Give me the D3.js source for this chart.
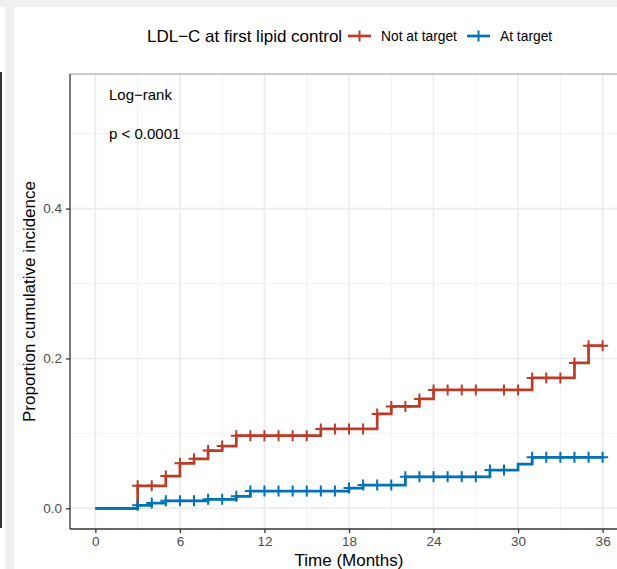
<!DOCTYPE html>
<html>
<head>
<meta charset="utf-8">
<script src="https://cdn.jsdelivr.net/npm/d3@7"></script>
<style>
  html, body { margin: 0; padding: 0; background: #f0f0f0; }
  svg { display: block; font-family: "Liberation Sans", Arial, sans-serif; }
</style>
</head>
<body>
<script>
// Cumulative incidence by LDL-C status at first lipid control
const groups = ["Not at target", "At target"];
const groupColors = ["#BC3C29", "#0072B5"];

// Step function: event times (months) and cumulative incidence after each step
const notAtTargetTimes  = [0, 3, 5, 6, 7, 8, 9, 10, 16, 20, 21, 23, 24, 31, 34, 35];
const notAtTargetValues = [0, 0.030, 0.043, 0.060, 0.066, 0.077, 0.083, 0.097, 0.106, 0.126, 0.136, 0.146, 0.158, 0.174, 0.194, 0.217];
const notAtTargetCensor = [3, 4, 5, 6, 7, 8, 9, 10, 11, 12, 13, 14, 15, 16, 17, 18, 19, 20, 21, 22, 23, 24, 25, 26, 27, 29, 30, 31, 32, 33, 34, 35, 36];

const atTargetTimes  = [0, 3, 4, 5, 8, 10, 11, 18, 19, 22, 28, 30, 31];
const atTargetValues = [0, 0.004, 0.007, 0.010, 0.012, 0.016, 0.023, 0.027, 0.031, 0.042, 0.051, 0.059, 0.068];
const atTargetCensor = [3, 4, 5, 6, 7, 8, 9, 10, 11, 12, 13, 14, 15, 16, 17, 18, 19, 20, 21, 22, 23, 24, 25, 26, 27, 28, 29, 31, 32, 33, 34, 35, 36];

const followUpEnd = 36;
const xTicks = [0, 6, 12, 18, 24, 30, 36];
const xMinor = [3, 9, 15, 21, 27, 33];
const yTicks = [0, 0.2, 0.4];
const yMinor = [0.1, 0.3, 0.5];

const W = 617, H = 569;
const FONT = "'Liberation Sans', Arial, sans-serif";
const svg = d3.select("body").append("svg").attr("width", W).attr("height", H);

// page backdrop
svg.append("rect").attr("width", W).attr("height", H).attr("fill", "#f0f0f0");
svg.append("rect").attr("x", 0).attr("y", 7).attr("width", 5).attr("height", H - 7).attr("fill", "#ffffff");
svg.append("line").attr("x1", 1).attr("x2", 1).attr("y1", 72).attr("y2", 528).attr("stroke", "#333").attr("stroke-width", 2);
svg.append("rect").attr("x", 14).attr("y", 7).attr("width", W - 14).attr("height", H - 7).attr("fill", "#ffffff");

const panel = { left: 70, right: 628, top: 74, bottom: 529 };
const x = d3.scaleLinear().domain([-1.8, 37.8]).range([panel.left, panel.right]);
const y = d3.scaleLinear().domain([-0.0276, 0.5796]).range([panel.bottom, panel.top]);

const g = svg.append("g");

// grid
g.selectAll(".xminor").data(xMinor).join("line")
  .attr("x1", d => x(d)).attr("x2", d => x(d)).attr("y1", panel.top).attr("y2", panel.bottom)
  .attr("stroke", "#f2f2f2").attr("stroke-width", 1);
g.selectAll(".yminor").data(yMinor).join("line")
  .attr("y1", d => y(d)).attr("y2", d => y(d)).attr("x1", panel.left).attr("x2", panel.right)
  .attr("stroke", "#f2f2f2").attr("stroke-width", 1);
g.selectAll(".xmajor").data(xTicks).join("line")
  .attr("x1", d => x(d)).attr("x2", d => x(d)).attr("y1", panel.top).attr("y2", panel.bottom)
  .attr("stroke", "#ebebeb").attr("stroke-width", 1.6);
g.selectAll(".ymajor").data(yTicks).join("line")
  .attr("y1", d => y(d)).attr("y2", d => y(d)).attr("x1", panel.left).attr("x2", panel.right)
  .attr("stroke", "#ebebeb").attr("stroke-width", 1.6);

// panel top border
g.append("line").attr("x1", panel.left).attr("x2", panel.right).attr("y1", panel.top).attr("y2", panel.top)
  .attr("stroke", "#9a9a9a").attr("stroke-width", 1.2);

// curves
const series = [
  { times: notAtTargetTimes, values: notAtTargetValues, censor: notAtTargetCensor, color: groupColors[0] },
  { times: atTargetTimes, values: atTargetValues, censor: atTargetCensor, color: groupColors[1] }
];

function stepValue(s, t) {
  let v = s.values[0];
  for (let i = 0; i < s.times.length; i++) if (s.times[i] <= t) v = s.values[i];
  return v;
}

const line = d3.line().x(d => x(d[0])).y(d => y(d[1])).curve(d3.curveStepAfter);

series.forEach(s => {
  const pts = s.times.map((t, i) => [t, s.values[i]]);
  pts.push([followUpEnd, s.values[s.values.length - 1]]);
  g.append("path").datum(pts).attr("d", line)
    .attr("fill", "none").attr("stroke", s.color).attr("stroke-width", 2.7)
    .attr("stroke-linejoin", "miter");
});

function plusPath(size) {
  const h = size / 2;
  return `M${-h},0H${h}M0,${-h}V${h}`;
}
series.forEach(s => {
  g.selectAll(null).data(s.censor).join("path")
    .attr("d", plusPath(11))
    .attr("transform", d => `translate(${x(d)},${y(stepValue(s, d))})`)
    .attr("stroke", s.color).attr("stroke-width", 2).attr("fill", "none");
});

// axes
const xAxis = d3.axisBottom(x).tickValues(xTicks).tickSize(4).tickPadding(3);
const yAxis = d3.axisLeft(y).tickValues(yTicks).tickSize(4).tickPadding(4).tickFormat(d3.format(".1f"));

const gx = svg.append("g").attr("transform", `translate(0,${panel.bottom})`).call(xAxis);
gx.select(".domain").attr("d", `M${panel.left},0H${panel.right}`).attr("stroke", "#333").attr("stroke-width", 1.3);
gx.selectAll(".tick line").attr("stroke", "#333").attr("stroke-width", 1.3);
gx.selectAll(".tick text").attr("fill", "#4d4d4d").style("font-size", "13.5px").style("font-family", FONT);

const gy = svg.append("g").attr("transform", `translate(${panel.left},0)`).call(yAxis);
gy.select(".domain").attr("d", `M0,${panel.top}V${panel.bottom}`).attr("stroke", "#333").attr("stroke-width", 1.3);
gy.selectAll(".tick line").attr("stroke", "#333").attr("stroke-width", 1.3);
gy.selectAll(".tick text").attr("fill", "#4d4d4d").style("font-size", "13.5px").style("font-family", FONT);

// axis titles
svg.append("text").attr("x", (panel.left + panel.right) / 2).attr("y", 566)
  .attr("text-anchor", "middle").style("font-size", "17px").attr("fill", "#000")
  .text("Time (Months)");
svg.append("text").attr("transform", `translate(34.5,${(panel.top + panel.bottom) / 2}) rotate(-90)`)
  .attr("text-anchor", "middle").style("font-size", "17px").attr("fill", "#000")
  .text("Proportion cumulative incidence");

// log-rank annotation
svg.append("text").attr("x", 109).attr("y", 100).style("font-size", "15px").attr("fill", "#000").text("Log\u2212rank");
svg.append("text").attr("x", 109).attr("y", 139).style("font-size", "15px").attr("fill", "#000").text("p < 0.0001");

// legend
const legend = svg.append("g");
legend.append("text").attr("x", 147).attr("y", 42).style("font-size", "17px").attr("fill", "#000")
  .text("LDL\u2212C at first lipid control");
const keyX = [348, 467];
const labelX = [381, 500];
groups.forEach((name, i) => {
  legend.append("line").attr("x1", keyX[i]).attr("x2", keyX[i] + 23).attr("y1", 36).attr("y2", 36)
    .attr("stroke", groupColors[i]).attr("stroke-width", 2.7);
  legend.append("path").attr("d", plusPath(11)).attr("transform", `translate(${keyX[i] + 11.5},36)`)
    .attr("stroke", groupColors[i]).attr("stroke-width", 2).attr("fill", "none");
  legend.append("text").attr("x", labelX[i]).attr("y", 41).style("font-size", "13.8px").attr("fill", "#000").text(name);
});
</script>
</body>
</html>
